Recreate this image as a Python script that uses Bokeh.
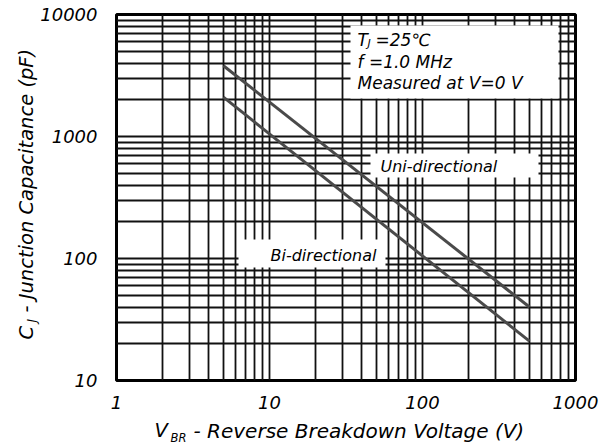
import math
from bokeh.plotting import figure
from bokeh.models import Range1d, FixedTicker, Label
from bokeh.embed import file_html
from bokeh.resources import INLINE

# ---- data ----
voltage = [5, 500]                 # V_BR (V)
uni_cap = [3800, 40]               # Uni-directional capacitance (pF)
bi_cap = [2100, 21]                # Bi-directional capacitance (pF)

x_major = [1, 10, 100, 1000]
x_labels = ["1", "10", "100", "1000"]
y_major = [10, 100, 1000, 10000]
y_labels = ["10", "100", "1000", "10000"]
mantissas = [2, 3, 4, 5, 6, 7, 8, 9]
x_minor = [m * d for d in x_major[:-1] for m in mantissas]
y_minor = [m * d for d in y_major[:-1] for m in mantissas]

# ---- geometry (canvas pixels) ----
W, H = 613, 448
FL, FR, FT, FB = 116, 575, 14, 380   # frame edges

p = figure(width=W, height=H, x_axis_type="log", y_axis_type="log",
           x_range=Range1d(1, 1000), y_range=Range1d(10, 10000),
           output_backend="svg", toolbar_location=None,
           min_border_left=FL, min_border_right=W - FR,
           min_border_top=FT, min_border_bottom=H - FB)
p.background_fill_color = "white"
p.border_fill_color = "white"
p.outline_line_color = "black"
p.outline_line_width = 3
p.outline_line_alpha = 1.0


def px2x(px):
    lo, hi = math.log10(1), math.log10(1000)
    return 10 ** (lo + (px - FL) / (FR - FL) * (hi - lo))


def py2y(py):
    lo, hi = math.log10(10), math.log10(10000)
    return 10 ** (hi - (py - FT) / (FB - FT) * (hi - lo))


xt = FixedTicker(ticks=x_major, minor_ticks=x_minor)
yt = FixedTicker(ticks=y_major, minor_ticks=y_minor)
p.xaxis.ticker = xt
p.yaxis.ticker = yt
p.xgrid.ticker = xt
p.ygrid.ticker = yt

for g in (p.xgrid, p.ygrid):
    g.grid_line_color = "#111111"
    g.grid_line_width = 1.8
    g.grid_line_alpha = 1.0
    g.minor_grid_line_color = "#111111"
    g.minor_grid_line_width = 1.8
    g.minor_grid_line_alpha = 1.0

for ax in (p.xaxis[0], p.yaxis[0]):
    ax.axis_line_color = None
    ax.major_tick_line_color = None
    ax.minor_tick_line_color = None
    ax.major_tick_out = 0
    ax.major_tick_in = 0
    ax.minor_tick_out = 0
    ax.major_label_text_font = "DejaVu Sans"
    ax.major_label_text_font_style = "italic"
    ax.major_label_text_font_size = "18px"
    ax.major_label_text_color = "black"

p.xaxis.major_label_overrides = {v: s for v, s in zip(x_major, x_labels)}
p.yaxis.major_label_overrides = {v: s for v, s in zip(y_major, y_labels)}
p.xaxis.major_label_standoff = 15
p.yaxis.major_label_standoff = 19

# white label boxes (over grid, under curves)
boxes = [(350, 558, 25, 98), (370, 538, 153, 177), (238, 385, 239, 267)]
p.quad(left=[px2x(b[0]) for b in boxes], right=[px2x(b[1]) for b in boxes],
       top=[py2y(b[2]) for b in boxes], bottom=[py2y(b[3]) for b in boxes],
       fill_color="white", line_color=None)

p.line(voltage, uni_cap, line_color="#4a4a4a", line_width=3)
p.line(voltage, bi_cap, line_color="#4a4a4a", line_width=3)


def lab(text, px, py, size, align="left", angle=0.0, place=None):
    lbl = Label(x=px2x(px), y=py2y(py), text=text,
                text_font="DejaVu Sans", text_font_style="italic",
                text_font_size=f"{size}px", text_align=align,
                text_baseline="middle", angle=angle, text_color="black")
    if place is None:
        p.add_layout(lbl)
    else:
        # side-panel labels are not clipped to the frame; they are spread over
        # the panels so that no panel grows beyond its border
        p.add_layout(lbl, place)


# annotation box text
lab("T", 357, 39, 17)
lab("J", 367, 43, 11)
lab("=25\u2103", 375, 39, 17)
lab("f =1.0 MHz", 357, 61, 17)
lab("Measured at V=0 V", 357, 82, 17)

# curve labels
lab("Uni-directional", 380, 166, 16)
lab("Bi-directional", 270, 255, 16)

# x axis title: V_BR - Reverse Breakdown Voltage (V)
lab("V", 154, 430, 19.5, place="right")
lab("BR", 170, 437, 11.5, place="above")
lab("- Reverse Breakdown Voltage (V)", 193, 430, 20, place="below")

# y axis title (rotated): C_J - Junction Capacitance (pF)
lab("C", 26, 339, 19.5, angle=math.pi / 2, place="right")
lab("J", 31, 322, 12, angle=math.pi / 2, place="left")
lab("- Junction Capacitance (pF)", 26, 312, 19.5, angle=math.pi / 2, place="left")

open("out.html", "w").write(file_html(p, INLINE))
